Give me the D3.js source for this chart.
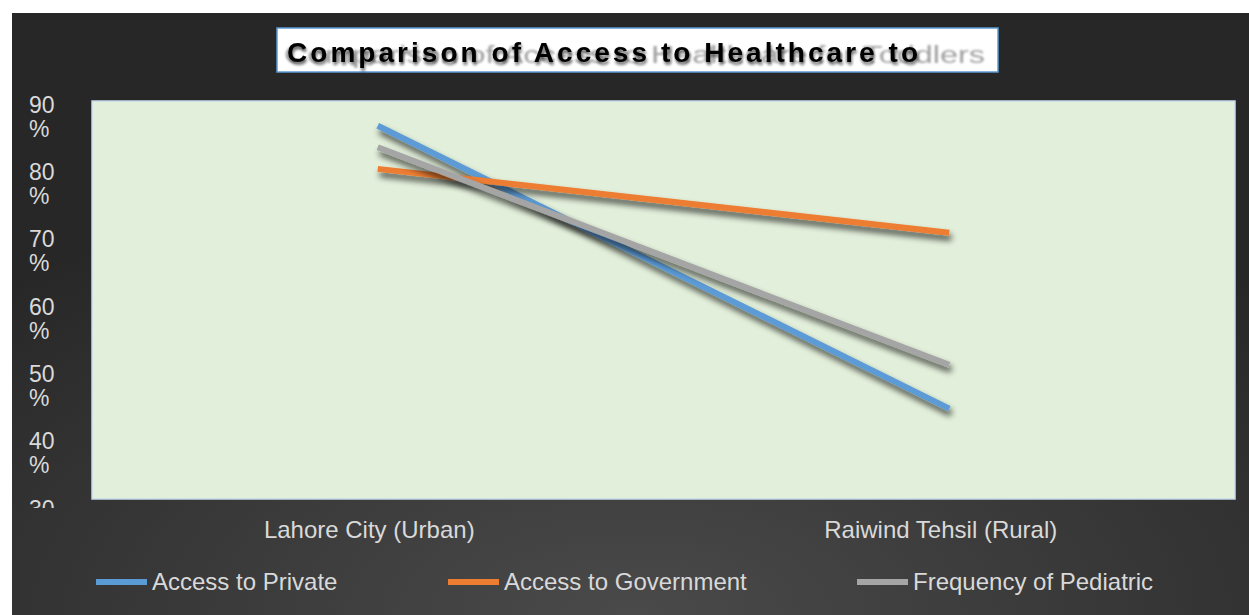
<!DOCTYPE html>
<html><head><meta charset="utf-8">
<script src="https://cdn.jsdelivr.net/npm/d3@7"></script>
<style>html,body{margin:0;padding:0;background:#fff;}svg{display:block;}</style>
</head><body>
<svg id="chart" width="1249" height="615"></svg>
<script>
const categories = ["Lahore City (Urban)", "Raiwind Tehsil (Rural)"];
const seriesNames = ["Access to Private", "Access to Government", "Frequency of Pediatric"];
const accessPrivate = [88.4, 46.4];
const accessGovernment = [82.0, 72.5];
const frequencyPediatric = [85.2, 52.9];
const yTicks = [30, 40, 50, 60, 70, 80, 90];
const colors = ["#5b9bd5", "#ed7d31", "#a5a5a5"];
const titleText = "Comparison of Access to Healthcare to";
const titleGhost = "Comparison of Access to Healthcare for Toddlers";

const series = [accessPrivate, accessGovernment, frequencyPediatric];
const FONT = "'Liberation Sans', Arial, sans-serif";
const svg = d3.select("#chart");
const defs = svg.append("defs");

const bg = defs.append("radialGradient").attr("id","bg")
  .attr("cx","50%").attr("cy","100%").attr("r","75%");
bg.append("stop").attr("offset","0%").attr("stop-color","#4a4a4a");
bg.append("stop").attr("offset","100%").attr("stop-color","#272727");

const sh = defs.append("filter").attr("id","shadow").attr("x","-20%").attr("y","-50%").attr("width","140%").attr("height","200%");
sh.append("feGaussianBlur").attr("in","SourceAlpha").attr("stdDeviation",3).attr("result","b");
sh.append("feOffset").attr("in","b").attr("dx",2).attr("dy",5).attr("result","o");
sh.append("feComponentTransfer").attr("in","o").attr("result","o2")
  .append("feFuncA").attr("type","linear").attr("slope",0.7);
const m = sh.append("feMerge");
m.append("feMergeNode").attr("in","o2");
m.append("feMergeNode").attr("in","SourceGraphic");

const blur = defs.append("filter").attr("id","blur");
blur.append("feGaussianBlur").attr("stdDeviation",1.3);

const tsh = defs.append("filter").attr("id","tshadow").attr("x","-5%").attr("y","-30%").attr("width","110%").attr("height","160%");
tsh.append("feGaussianBlur").attr("in","SourceAlpha").attr("stdDeviation",1.8).attr("result","b");
tsh.append("feOffset").attr("in","b").attr("dx",1).attr("dy",3).attr("result","o");
tsh.append("feComponentTransfer").attr("in","o").attr("result","o2")
  .append("feFuncA").attr("type","linear").attr("slope",0.55);
const m2 = tsh.append("feMerge");
m2.append("feMergeNode").attr("in","o2");
m2.append("feMergeNode").attr("in","SourceGraphic");

defs.append("clipPath").attr("id","yclip").append("rect")
  .attr("x",0).attr("y",80).attr("width",92).attr("height",428);

// background
svg.append("rect").attr("x",12).attr("y",13).attr("width",1237).attr("height",602).attr("fill","url(#bg)");

const plot = {left:92, top:101, right:1235, bottom:499};
svg.append("rect").attr("x",plot.left).attr("y",plot.top)
  .attr("width",plot.right-plot.left).attr("height",plot.bottom-plot.top)
  .attr("fill","#e2efda").attr("stroke","#c9d9ec").attr("stroke-width",1.5);

const x = d3.scalePoint().domain(categories).range([plot.left, plot.right]).padding(0.5);
const y = d3.scaleLinear().domain([30, 90]).range([519, 115]);

// y axis
const yAxis = svg.append("g").attr("clip-path","url(#yclip)")
  .attr("transform","translate(29,0)")
  .call(d3.axisLeft(y).tickValues(yTicks).tickSize(0).tickFormat(d => d));
yAxis.select(".domain").remove();
yAxis.selectAll(".tick text").each(function(d){
  const t = d3.select(this);
  t.text(null).attr("x",0).attr("dy",null).attr("text-anchor","start")
   .attr("fill","#d9d9d9").style("font-family",FONT).style("font-size","23px");
  t.append("tspan").attr("x",0).attr("dy",-3).text(d);
  t.append("tspan").attr("x",0).attr("dy",24).text("%");
});

// x axis labels
const xAxis = svg.append("g").attr("transform",`translate(-9,${plot.bottom})`)
  .call(d3.axisBottom(x).tickSize(0).tickPadding(22));
xAxis.select(".domain").remove();
xAxis.selectAll(".tick text").attr("fill","#d9d9d9")
  .style("font-family",FONT).style("font-size","24px");

// lines
const line = d3.line().x((d,i)=>x(categories[i])).y(d=>y(d));
svg.append("g").selectAll("path").data(series).join("path")
  .attr("d", d=>line(d)).attr("fill","none")
  .attr("stroke",(d,i)=>colors[i]).attr("stroke-width",6)
  .attr("filter","url(#shadow)");

// title
svg.append("rect").attr("x",277).attr("y",28).attr("width",721).attr("height",44)
  .attr("fill","#ffffff").attr("stroke","#5b9bd5").attr("stroke-width",1.5);
svg.append("text").attr("x",284).attr("y",63).text(titleGhost)
  .attr("fill","#a0a0a0").attr("filter","url(#blur)")
  .attr("textLength",701).attr("lengthAdjust","spacingAndGlyphs")
  .style("font-family",FONT).style("font-size","23px");
svg.append("text").attr("x",287).attr("y",62).text(titleText)
  .attr("fill","#000").attr("filter","url(#tshadow)")
  .attr("textLength",631).attr("lengthAdjust","spacing")
  .style("font-family",FONT).style("font-size","28px").style("font-weight","bold");

// legend
const legX = [96, 448, 857];
const leg = svg.append("g").selectAll("g").data(seriesNames).join("g")
  .attr("transform",(d,i)=>`translate(${legX[i]},582)`);
leg.append("line").attr("x1",0).attr("x2",51).attr("y1",0).attr("y2",0)
  .attr("stroke",(d,i)=>colors[i]).attr("stroke-width",6);
leg.append("text").attr("x",56).attr("y",0).attr("dy","0.35em").text(d=>d)
  .attr("fill","#d9d9d9").style("font-family",FONT).style("font-size","24px");
</script>
</body></html>
